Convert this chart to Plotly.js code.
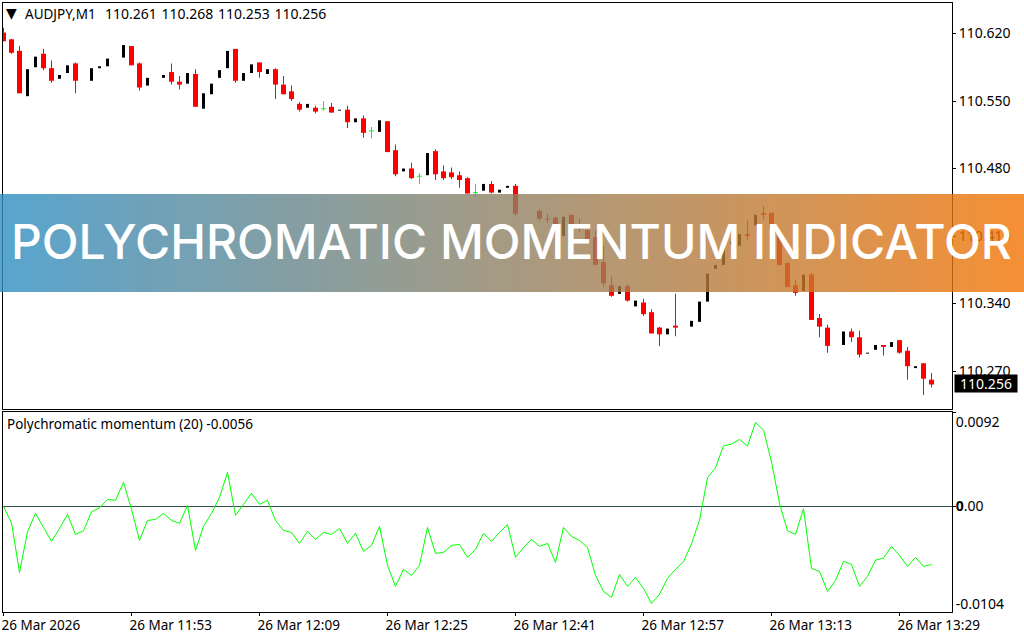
<!DOCTYPE html>
<html>
<head>
<meta charset="utf-8">
<script src="https://cdn.plot.ly/plotly-3.0.1.min.js"></script>
<style>html,body{margin:0;padding:0;background:#fff;overflow:hidden}#chart{width:1024px;height:640px}</style>
</head>
<body>
<div id="chart"></div>
<script>
const open = [110.621,110.614,110.602,110.555,110.585,110.599,110.584,110.573,110.579,110.589,null,110.571,110.584,110.586,null,110.595,110.607,110.589,110.566,null,110.574,110.580,110.570,110.568,110.578,110.542,110.557,110.574,110.584,110.604,110.571,110.579,110.590,110.578,110.583,110.567,110.560,110.547,110.543,110.543,110.542,110.544,110.540,110.541,110.528,110.532,110.519,110.518,110.529,110.499,110.477,110.480,110.472,110.473,110.498,110.477,110.476,110.473,110.470,110.455,110.457,110.464,110.455,110.460,110.462,null,null,110.436,110.428,110.429,110.410,110.432,110.422,110.416,110.409,110.383,110.359,110.350,110.358,110.337,110.341,110.331,110.315,110.308,110.317,null,110.316,110.321,110.342,110.376,110.380,110.401,110.400,110.412,110.421,110.434,110.434,110.413,110.382,110.359,110.353,110.370,110.325,110.315,null,110.297,110.311,110.305,110.288,110.292,110.297,110.295,110.302,110.291,110.273,110.278,110.261];
const high = [110.626,110.614,110.607,110.583,110.596,110.604,110.592,110.577,110.587,110.590,null,110.584,110.586,110.594,null,110.608,110.607,110.590,110.574,null,110.577,110.589,110.576,110.579,110.583,110.558,110.568,110.582,110.602,110.604,110.579,110.588,110.590,110.583,110.584,110.576,110.566,110.549,110.547,110.545,110.550,110.548,110.541,110.545,110.532,110.535,110.523,110.530,110.529,110.505,110.480,110.486,110.475,110.496,110.500,110.483,110.481,110.477,110.471,110.464,110.464,110.467,110.458,110.462,110.464,null,null,110.438,110.433,110.430,110.430,110.432,110.428,110.417,110.416,110.400,110.368,110.358,110.360,110.343,110.345,110.334,110.316,110.314,110.350,null,110.322,110.342,110.371,110.380,110.401,110.405,110.412,110.426,110.432,110.441,110.434,110.414,110.383,110.365,110.370,110.372,110.329,110.318,null,110.311,110.314,110.312,110.289,110.297,110.297,110.300,110.302,110.295,110.275,110.278,110.268];
const low = [110.612,110.599,110.558,110.555,110.585,110.582,110.569,110.573,110.579,110.558,null,110.571,110.584,110.586,null,110.595,110.587,110.561,110.566,null,110.574,110.567,110.562,110.568,110.544,110.542,110.557,110.574,110.584,110.569,110.571,110.579,110.574,110.578,110.552,110.557,110.550,110.539,110.543,110.537,110.540,110.538,110.540,110.522,110.528,110.512,110.511,110.518,110.497,110.472,110.477,110.469,110.464,110.473,110.468,110.468,110.469,110.460,110.454,110.451,110.457,110.454,110.455,110.460,110.431,null,null,110.426,110.424,110.421,110.410,110.421,110.414,110.407,110.380,110.357,110.347,110.350,110.342,110.337,110.327,110.309,110.296,110.308,110.306,null,110.316,110.321,110.342,110.376,110.380,110.401,110.400,110.406,110.421,110.427,110.417,110.379,110.357,110.348,110.353,110.323,110.305,110.289,null,110.297,110.300,110.284,110.288,110.292,110.286,110.295,110.288,110.261,110.273,110.245,110.253];
const close = [110.612,110.600,110.558,110.583,110.596,110.584,110.571,110.577,110.587,110.571,null,110.584,110.586,110.594,null,110.608,110.587,110.564,110.574,null,110.577,110.570,110.567,110.579,110.544,110.558,110.568,110.582,110.602,110.571,110.579,110.588,110.580,110.583,110.567,110.557,110.552,110.541,110.547,110.539,110.542,110.538,110.541,110.528,110.532,110.517,110.519,110.530,110.497,110.474,110.480,110.470,110.472,110.496,110.474,110.470,110.471,110.468,110.454,110.455,110.464,110.455,110.458,110.462,110.433,null,null,110.428,110.427,110.421,110.430,110.422,110.421,110.407,110.380,110.361,110.348,110.358,110.343,110.343,110.329,110.309,110.308,110.314,110.315,null,110.322,110.342,110.371,110.380,110.401,110.405,110.412,110.410,110.432,110.432,110.417,110.380,110.357,110.351,110.370,110.323,110.316,110.296,null,110.311,110.305,110.287,110.289,110.297,110.295,110.300,110.289,110.275,110.275,110.262,110.256];
const momentum = [0,-0.00160,-0.00644,-0.00248,-0.00068,-0.00205,-0.00341,-0.00215,-0.00078,-0.00273,-0.00238,-0.00053,-0.00014,0.00068,0.00059,0.00234,-0.00029,-0.00332,-0.00137,-0.00127,-0.00068,-0.00137,-0.00166,0.00010,-0.00429,-0.00195,-0.00068,0.00088,0.00332,-0.00088,0.00020,0.00127,0.00020,0.00059,-0.00137,-0.00234,-0.00254,-0.00361,-0.00244,-0.00322,-0.00254,-0.00273,-0.00215,-0.00361,-0.00263,-0.00439,-0.00380,-0.00195,-0.00575,-0.00780,-0.00614,-0.00673,-0.00575,-0.00205,-0.00458,-0.00449,-0.00380,-0.00371,-0.00497,-0.00419,-0.00263,-0.00341,-0.00254,-0.00176,-0.00497,-0.00400,-0.00322,-0.00390,-0.00361,-0.00546,-0.00205,-0.00293,-0.00332,-0.00400,-0.00673,-0.00829,-0.00887,-0.00663,-0.00780,-0.00692,-0.00800,-0.00946,-0.00858,-0.00702,-0.00614,-0.00540,-0.00365,-0.00134,0.00279,0.00376,0.00591,0.00607,0.00653,0.00588,0.00819,0.00744,0.00435,0.00029,-0.00238,-0.00273,-0.00023,-0.00605,-0.00634,-0.00829,-0.00722,-0.00536,-0.00566,-0.00780,-0.00683,-0.00524,-0.00504,-0.00390,-0.00478,-0.00585,-0.00497,-0.00585,-0.00566];
const timeTickBars = [0,16,32,48,64,80,96,112];
const timeTickLabels = ['26 Mar 2026','26 Mar 11:53','26 Mar 12:09','26 Mar 12:25','26 Mar 12:41','26 Mar 12:57','26 Mar 13:13','26 Mar 13:29'];
const priceTicks = [110.62,110.55,110.48,110.41,110.34,110.27];
const priceLabels = ['110.620','110.550','110.480','110.410','110.340','110.270'];
const lastPrice = '110.256';
const chartSymbol = 'AUDJPY,M1';
const chartQuotes = '110.261\u2004110.268\u2004110.253\u2004110.256';
const indicatorHeader = 'Polychromatic momentum (20) -0.0056';
const bannerText = 'POLYCHROMATIC MOMENTUM INDICATOR';
const bannerLeft = [46,142,195], bannerRight = [243,115,1];

const W = 1024, H = 640;
const UI = '"Noto Sans", sans-serif';
const RED = '#ff0000', BLACK = '#000000', GREEN = '#00ff00';
const groups = {down:{bx:[],bb:[],bh:[],wb:[],wh:[],wx:[]}, up:{bx:[],bb:[],bh:[],wb:[],wh:[],wx:[]}, flat:{bx:[],bb:[],bh:[],wb:[],wh:[],wx:[]}};
open.forEach((o,i)=>{
  if(o===null) return;
  const c = close[i];
  const g = c<o ? groups.down : c>o ? groups.up : groups.flat;
  g.bx.push(i);
  const lo = Math.min(o,c), hi = Math.max(o,c);
  const h = hi-lo || 0.001;
  g.bb.push(hi===lo ? lo-0.0005 : lo); g.bh.push(h);
  g.wx.push(i); g.wb.push(low[i]); g.wh.push(high[i]-low[i]);
});
const barT = (x,base,y,w,color)=>({type:'bar',x,base,y,width:w,marker:{color,line:{width:0}},xaxis:'x',yaxis:'y',hoverinfo:'skip',showlegend:false});
const traces = [
  barT(groups.down.wx,groups.down.wb,groups.down.wh,0.125,RED),
  barT(groups.down.bx,groups.down.bb,groups.down.bh,0.625,RED),
  barT(groups.up.bx,groups.up.bb,groups.up.bh,0.375,BLACK),
  barT(groups.flat.wx,groups.flat.wb,groups.flat.wh,0.125,GREEN),
  barT(groups.flat.bx,groups.flat.bb,groups.flat.bh,0.625,GREEN),
  {type:'scatter',mode:'lines',x:momentum.map((_,i)=>i),y:momentum,xaxis:'x2',yaxis:'y2',line:{color:GREEN,width:1,simplify:false},hoverinfo:'skip',showlegend:false}
];

const dx = px=>px/W, dy = px=>1-px/H;
const xRange = [-0.0625,118.5625];
const frame = {showline:true,linecolor:'#000',linewidth:1,mirror:true,showgrid:false,zeroline:false};
const tickFont = {family:UI,size:14,color:'#000'};
const timeFont = {family:UI,size:13.5,color:'#000'};
const shapes = [];
for(let k=0;k<128;k++){
  const t=(k+0.5)/128, col=bannerLeft.map((v,j)=>Math.round(v+(bannerRight[j]-v)*t));
  shapes.push({type:'rect',layer:'above',xref:'paper',yref:'paper',x0:k*8/W,x1:(k+1)*8/W,y0:dy(292),y1:dy(194),line:{width:0},fillcolor:`rgba(${col[0]},${col[1]},${col[2]},0.8)`});
}
const layout = {
  width:W,height:H,margin:{l:0,r:0,t:0,b:0,pad:0},paper_bgcolor:'#fff',plot_bgcolor:'#fff',barmode:'overlay',hovermode:false,showlegend:false,
  xaxis:Object.assign({},frame,{domain:[dx(3),dx(952)],range:xRange,anchor:'y',showticklabels:false,ticks:''}),
  yaxis:Object.assign({},frame,{domain:[dy(409),dy(3)],range:[110.2306,110.65163],anchor:'x',side:'right',tickmode:'array',tickvals:priceTicks,ticktext:priceLabels,ticks:'outside',ticklen:3,tickcolor:'#000',tickfont:tickFont,ticklabelstandoff:0}),
  xaxis2:Object.assign({},frame,{domain:[dx(3),dx(952)],range:xRange,anchor:'y2',tickmode:'array',tickvals:timeTickBars,ticktext:timeTickLabels,ticks:'outside',ticklen:3,tickcolor:'#000',tickfont:timeFont,ticklabelposition:'outside right',ticklabeloverflow:'allow',ticklabelstandoff:1,ticklabelshift:-3,tickangle:0}),
  yaxis2:Object.assign({},frame,{domain:[dy(612),dy(412)],range:[-0.010298,0.009205],anchor:'x2',side:'right',zeroline:true,zerolinecolor:'#2f4f4f',zerolinewidth:1,tickmode:'array',tickvals:[0.00823,0,-0.00952],ticktext:['0.0092','<b>0</b>.00','-0.0104'],ticks:'',tickfont:tickFont,ticklabelstandoff:0,
    minor:{tickmode:'array',tickvals:[0.0092,0,-0.0103],ticks:'outside',ticklen:3,tickcolor:'#000',showgrid:false}}),
  shapes,
  annotations:[
    {text:'▼',xref:'paper',yref:'paper',x:dx(4),y:dy(13),xanchor:'left',yanchor:'middle',showarrow:false,font:{family:'"DejaVu Sans"',size:14,color:'#000'}},
    {text:chartSymbol,xref:'paper',yref:'paper',x:dx(23),y:dy(14),xanchor:'left',yanchor:'middle',showarrow:false,font:{family:UI,size:13.5,color:'#000'}},
    {text:chartQuotes,xref:'paper',yref:'paper',x:dx(103),y:dy(14),xanchor:'left',yanchor:'middle',showarrow:false,font:{family:UI,size:14,color:'#000'}},
    {text:indicatorHeader,xref:'paper',yref:'paper',x:dx(5),y:dy(424),xanchor:'left',yanchor:'middle',showarrow:false,font:{family:UI,size:13.5,color:'#000'}},
    {text:lastPrice,xref:'paper',yref:'paper',x:dx(954),y:dy(383.5),xanchor:'left',yanchor:'middle',showarrow:false,bgcolor:'#000',width:62,height:17,font:{family:UI,size:14,color:'#fff'},borderpad:0},
    {text:bannerText,xref:'paper',yref:'paper',x:dx(511.5),y:dy(241),xanchor:'center',yanchor:'middle',showarrow:false,font:{family:'Inter',size:48,weight:500,color:'#fff'}}
  ]
};
Plotly.newPlot('chart',traces,layout,{displayModeBar:false,staticPlot:true});
</script>
</body>
</html>
